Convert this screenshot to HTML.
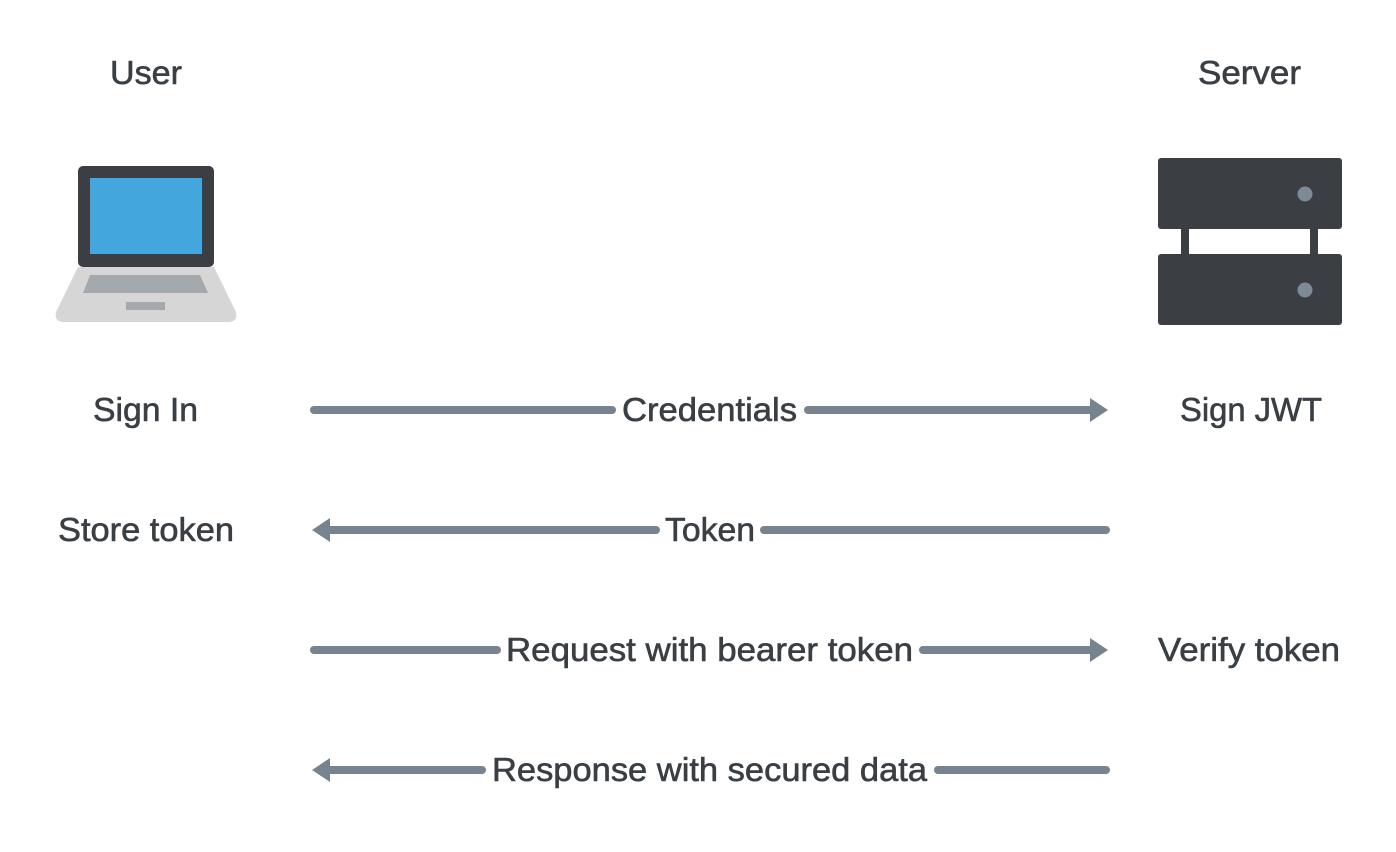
<!DOCTYPE html>
<html><head><style>html,body{margin:0;padding:0;background:#fff}svg{display:block}</style></head><body>
<svg width="1396" height="852" viewBox="0 0 1396 852" xmlns="http://www.w3.org/2000/svg">
<g font-family="Liberation Sans, sans-serif" font-size="33" fill="#3a3f44" stroke="#3a3f44" stroke-width="0.6">
<text x="110" y="84" textLength="72" lengthAdjust="spacingAndGlyphs">User</text>
<text x="1198" y="84" textLength="103" lengthAdjust="spacingAndGlyphs">Server</text>
<text x="93" y="421" textLength="105" lengthAdjust="spacingAndGlyphs">Sign In</text>
<text x="1180" y="421" textLength="142" lengthAdjust="spacingAndGlyphs">Sign JWT</text>
<text x="58" y="541" textLength="176" lengthAdjust="spacingAndGlyphs">Store token</text>
<text x="1158" y="661" textLength="182" lengthAdjust="spacingAndGlyphs">Verify token</text>
<text x="622" y="421" textLength="175" lengthAdjust="spacingAndGlyphs">Credentials</text>
<text x="665" y="541" textLength="90" lengthAdjust="spacingAndGlyphs">Token</text>
<text x="506" y="661" textLength="407" lengthAdjust="spacingAndGlyphs">Request with bearer token</text>
<text x="492" y="781" textLength="435" lengthAdjust="spacingAndGlyphs">Response with secured data</text>
</g>
<g stroke="#778490" stroke-width="8" stroke-linecap="round" fill="none">
<line x1="314" y1="410" x2="612" y2="410"/><line x1="808" y1="410" x2="1092" y2="410"/>
<line x1="328" y1="530" x2="656" y2="530"/><line x1="764" y1="530" x2="1106" y2="530"/>
<line x1="314" y1="650" x2="497" y2="650"/><line x1="923" y1="650" x2="1092" y2="650"/>
<line x1="328" y1="770" x2="482" y2="770"/><line x1="938" y1="770" x2="1106" y2="770"/>
</g>
<g fill="#778490">
<polygon points="1090,398 1108,410 1090,422"/>
<polygon points="1090,638 1108,650 1090,662"/>
<polygon points="330,518 312,530 330,542"/>
<polygon points="330,758 312,770 330,782"/>
</g>
<path d="M78,267 L214,267 L236,312 Q238,322 228,322 L64,322 Q54,322 56,312 Z" fill="#d6d6d6"/>
<rect x="78" y="166" width="136" height="101" rx="5" fill="#3b3f43"/>
<rect x="90" y="178" width="112" height="76" fill="#43a6dd"/>
<path d="M90,275 L200,275 L208,293 L83,293 Z" fill="#a4a9ae"/>
<rect x="126" y="302" width="39" height="8" fill="#a4a9ae"/>
<rect x="1181" y="225" width="8" height="33" fill="#3b3f43"/>
<rect x="1310" y="225" width="8" height="33" fill="#3b3f43"/>
<rect x="1158" y="158" width="184" height="71" rx="3" fill="#3b3f43"/>
<rect x="1158" y="254" width="184" height="71" rx="3" fill="#3b3f43"/>
<circle cx="1305" cy="194" r="7.5" fill="#7c8a98"/>
<circle cx="1305" cy="290" r="7.5" fill="#7c8a98"/>
</svg>
</body></html>
